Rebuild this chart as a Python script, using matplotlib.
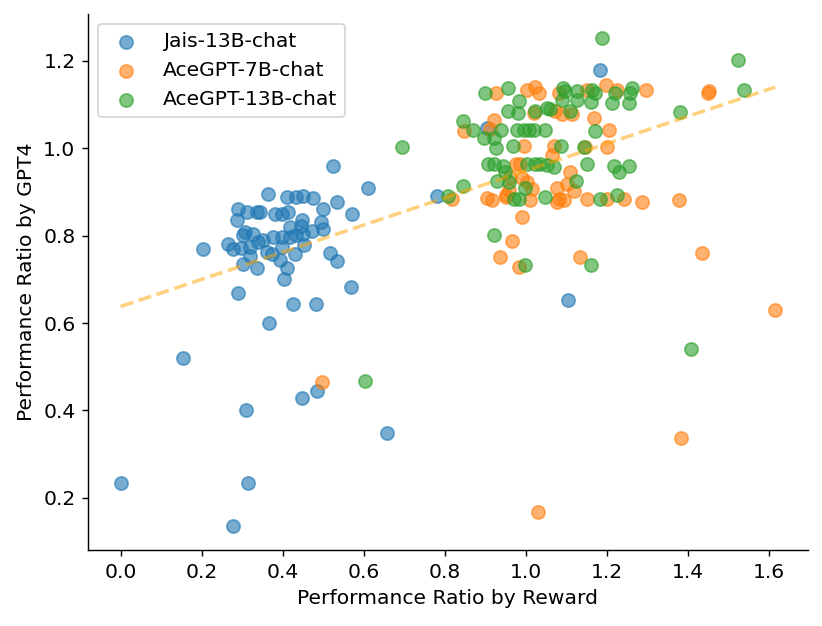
import numpy as np
import matplotlib
matplotlib.use("Agg")
from matplotlib import pyplot as plt

plt.rcParams["font.size"] = 11.4

# Jais-13B-chat
jais_x = [0.525, 0.610, 0.364, 0.410, 0.434, 0.451, 0.474, 0.533, 0.290, 0.311,
          0.336, 0.345, 0.381, 0.397, 0.412, 0.499, 0.572, 0.286, 0.448, 0.494,
          0.418, 0.444, 0.500, 0.472, 0.307, 0.327, 0.302, 0.377, 0.397, 0.418,
          0.434, 0.451, 0.340, 0.352, 0.204, 0.265, 0.278, 0.298, 0.319, 0.360,
          0.373, 0.397, 0.430, 0.453, 0.319, 0.517, 0.533, 0.302, 0.336, 0.393,
          0.410, 0.404, 0.290, 0.426, 0.481, 0.568, 0.366, 0.000, 0.153, 0.309,
          0.314, 0.277, 0.448, 0.485, 0.658, 1.104, 1.184, 0.904, 0.781]
jais_y = [0.959, 0.909, 0.896, 0.889, 0.889, 0.890, 0.886, 0.877, 0.860, 0.854,
          0.854, 0.854, 0.849, 0.849, 0.854, 0.860, 0.849, 0.835, 0.835, 0.831,
          0.820, 0.822, 0.816, 0.811, 0.808, 0.805, 0.801, 0.796, 0.796, 0.796,
          0.801, 0.805, 0.786, 0.789, 0.769, 0.780, 0.770, 0.772, 0.774, 0.763,
          0.759, 0.774, 0.759, 0.778, 0.753, 0.760, 0.742, 0.736, 0.726, 0.744,
          0.727, 0.702, 0.669, 0.644, 0.644, 0.682, 0.601, 0.234, 0.521, 0.402,
          0.234, 0.136, 0.429, 0.445, 0.349, 0.653, 1.178, 1.046, 0.891]

# AceGPT-7B-chat
ace7_x = [0.927, 1.003, 1.022, 1.032, 1.081, 1.152, 1.197, 1.226, 1.296, 1.452,
          1.451, 1.020, 1.073, 1.090, 1.114, 1.168, 0.922, 0.848, 0.912, 1.205,
          0.995, 1.069, 1.147, 1.201, 1.065, 0.977, 0.987, 0.962, 0.991, 1.003,
          1.016, 1.109, 1.102, 1.077, 1.118, 0.818, 0.904, 0.917, 0.952, 0.958,
          0.950, 1.010, 1.077, 1.095, 1.081, 1.152, 1.201, 1.242, 1.288, 1.379,
          0.991, 0.966, 0.937, 0.984, 1.133, 1.434, 1.616, 0.497, 1.382, 1.029]
ace7_y = [1.126, 1.133, 1.141, 1.126, 1.127, 1.133, 1.145, 1.133, 1.133, 1.132,
          1.127, 1.081, 1.085, 1.078, 1.078, 1.069, 1.065, 1.040, 1.044, 1.042,
          1.005, 1.005, 1.003, 1.003, 0.984, 0.965, 0.963, 0.935, 0.931, 0.923,
          0.906, 0.945, 0.919, 0.908, 0.902, 0.883, 0.886, 0.881, 0.893, 0.904,
          0.889, 0.881, 0.876, 0.881, 0.883, 0.885, 0.885, 0.885, 0.877, 0.881,
          0.842, 0.787, 0.751, 0.728, 0.751, 0.761, 0.631, 0.466, 0.338, 0.168]

# AceGPT-13B-chat
ace13_x = [1.187, 1.523, 1.539, 1.381, 1.409, 0.603, 0.695, 0.900, 0.956, 1.092,
           1.098, 1.127, 1.164, 1.170, 1.220, 1.263, 1.257, 0.984, 1.090, 1.127,
           1.160, 1.212, 1.254, 0.956, 0.982, 1.024, 1.053, 1.061, 1.110, 0.845,
           0.869, 0.940, 0.978, 0.995, 1.007, 1.020, 1.048, 1.172, 0.896, 0.921,
           0.927, 0.969, 1.086, 1.143, 0.908, 0.921, 0.945, 0.948, 1.003, 1.024,
           1.036, 1.053, 1.069, 1.150, 1.217, 1.230, 1.254, 1.125, 0.929, 0.958,
           0.999, 0.846, 0.809, 0.970, 0.984, 1.048, 1.184, 1.224, 0.921, 0.997,
           1.160]
ace13_y = [1.252, 1.202, 1.133, 1.082, 0.541, 0.468, 1.003, 1.127, 1.137, 1.137,
           1.132, 1.130, 1.133, 1.127, 1.127, 1.137, 1.127, 1.109, 1.111, 1.111,
           1.107, 1.104, 1.104, 1.086, 1.081, 1.086, 1.092, 1.089, 1.086, 1.063,
           1.042, 1.042, 1.042, 1.042, 1.042, 1.042, 1.042, 1.040, 1.023, 1.023,
           1.001, 1.005, 1.005, 1.003, 0.965, 0.965, 0.960, 0.946, 0.965, 0.965,
           0.965, 0.961, 0.958, 0.963, 0.960, 0.945, 0.960, 0.925, 0.925, 0.923,
           0.908, 0.913, 0.891, 0.885, 0.885, 0.889, 0.883, 0.893, 0.801, 0.732,
           0.732]

# Trend line end points
trend_x = [0.0, 1.616]
trend_y = [0.638, 1.140]

fig, ax = plt.subplots(figsize=(822 / 128, 626 / 128), dpi=128)
fig.subplots_adjust(left=0.107, right=0.983, bottom=0.121, top=0.978)

ax.scatter(jais_x, jais_y, s=55, alpha=0.6, label="Jais-13B-chat")
ax.scatter(ace7_x, ace7_y, s=55, alpha=0.6, label="AceGPT-7B-chat")
ax.scatter(ace13_x, ace13_y, s=55, alpha=0.6, label="AceGPT-13B-chat")
ax.plot(trend_x, trend_y, "--", color="orange", alpha=0.5, linewidth=2)

ax.set_xlabel("Performance Ratio by Reward")
ax.set_ylabel("Performance Ratio by GPT4")
ax.spines["top"].set_visible(False)
ax.spines["right"].set_visible(False)
ax.legend(loc="upper left")

fig.savefig("out.png", dpi=128)
